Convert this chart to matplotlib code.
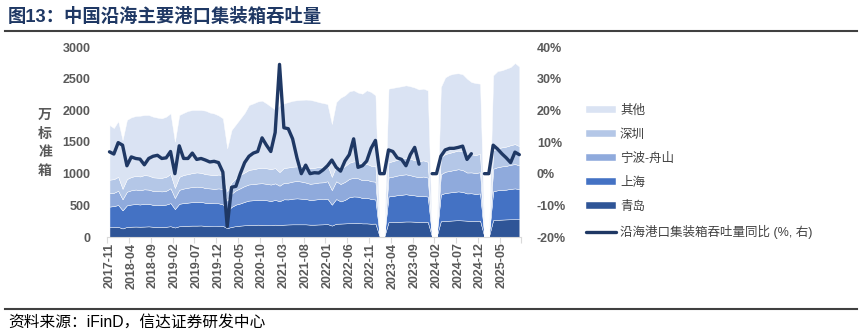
import matplotlib
matplotlib.use('Agg')
import matplotlib.pyplot as plt
import numpy as np
import pandas as pd

plt.rcParams['font.family'] = ['Liberation Sans', 'Noto Sans CJK SC', 'DejaVu Sans']
plt.rcParams['axes.unicode_minus'] = False

nan = np.nan

# 月份 2017-11 ~ 2025-09（1、2月合并公布的年份留空）
months = list(pd.period_range('2017-11', '2025-09', freq='M').strftime('%Y-%m'))

# 万标准箱
qingdao = [155, 158, 160, 135, 160, 163, 165, 163, 165, 168, 162, 160, 160, 162,
           170, 150, 170, 175, 178, 180, 180, 182, 175, 172, 170, 172,
           175, 140, 160, 172, 180, 185, 190, 190, 195, 192, 190, 188,
           195, 190, 195, 198, 200, 200, 200, 200, 195, 195, 198, 200,
           205, 180, 210, 212, 215, 218, 220, 222, 215, 215, 210, 212,
           nan, nan, 235, 238, 240, 242, 245, 245, 242, 240, 240, 238,
           nan, nan, 250, 255, 258, 262, 265, 262, 258, 255, 255, 258,
           nan, nan, 268, 272, 275, 278, 280, 282, 280]
shanghai = [325, 330, 345, 285, 340, 350, 355, 350, 360, 355, 345, 350, 345, 350,
            365, 290, 355, 360, 365, 370, 375, 372, 365, 365, 362, 360,
            340, 270, 315, 340, 350, 370, 385, 390, 390, 395, 390, 380,
            390, 375, 400, 395, 405, 410, 405, 400, 390, 395, 400, 395,
            400, 330, 390, 350, 370, 410, 420, 415, 400, 405, 390, 380,
            nan, nan, 405, 410, 420, 425, 430, 420, 415, 405, 410, 400,
            nan, nan, 420, 440, 445, 450, 455, 450, 430, 435, 425, 430,
            nan, nan, 455, 465, 470, 470, 480, 485, 475]
ningbo = [215, 210, 225, 175, 215, 225, 230, 225, 228, 225, 220, 215, 215, 218,
          235, 175, 220, 230, 235, 240, 240, 238, 232, 230, 228, 235,
          245, 165, 210, 225, 240, 250, 255, 255, 260, 262, 260, 260,
          262, 245, 260, 265, 270, 275, 270, 260, 255, 258, 262, 268,
          275, 230, 280, 275, 285, 290, 295, 290, 280, 285, 280, 282,
          nan, nan, 300, 305, 310, 315, 315, 310, 300, 300, 305, 300,
          nan, nan, 320, 335, 340, 345, 350, 345, 330, 330, 330, 335,
          nan, nan, 355, 365, 370, 375, 380, 385, 375]
shenzhen = [210, 215, 220, 165, 200, 210, 215, 218, 225, 222, 215, 212, 215, 220,
            225, 160, 205, 215, 215, 220, 225, 222, 220, 218, 215, 220,
            215, 150, 180, 195, 210, 215, 230, 235, 240, 245, 245, 245,
            240, 215, 235, 240, 235, 230, 245, 250, 245, 245, 245, 250,
            255, 210, 245, 245, 250, 255, 260, 260, 255, 250, 245, 245,
            nan, nan, 240, 245, 250, 255, 260, 260, 255, 255, 255, 250,
            nan, nan, 270, 280, 285, 290, 295, 295, 285, 285, 285, 290,
            nan, nan, 290, 300, 300, 305, 310, 315, 305]
others = [863, 807, 880, 770, 935, 942, 945, 959, 947, 956, 958, 948, 939, 950,
          958, 730, 976, 980, 997, 995, 985, 991, 1003, 980, 975, 933,
          899, 675, 825, 848, 890, 940, 1024, 1040, 1055, 1059, 1025, 987,
          923, 1055, 1020, 1032, 1040, 1045, 1045, 1060, 1080, 1057, 1025, 1002,
          965, 834, 1005, 1118, 1117, 1127, 1121, 1093, 1113, 1161, 1165, 1118,
          nan, nan, 1162, 1157, 1148, 1143, 1145, 1145, 1148, 1130, 1132, 1128,
          nan, nan, 1108, 1210, 1232, 1232, 1220, 1218, 1197, 1142, 1135, 1108,
          nan, nan, 1185, 1218, 1217, 1230, 1234, 1280, 1255]

# 同比（%）
yoy = [6.9, 6.2, 9.8, 9.0, 2.5, 5.3, 4.8, 4.6, 2.8, 4.8, 5.5, 5.8, 4.8, 5.0,
       7.0, 0.0, 8.8, 4.8, 4.8, 6.5, 4.5, 4.8, 4.3, 3.7, 3.9, 3.5,
       0.5, -16.7, -4.3, -4.0, 0.0, 3.5, 5.5, 6.5, 7.0, 11.3, 9.0, 7.0,
       13.0, 34.5, 14.5, 14.2, 11.0, 5.0, 0.0, 2.7, 0.0, 0.3, 0.2, 1.2,
       2.5, 4.3, 2.0, 0.8, 4.0, 6.0, 11.0, 2.0, 2.5, 4.0, 8.0, 10.5,
       0.0, 0.0, 7.5, 7.0, 5.0, 4.5, 2.5, 6.0, 8.3, 3.0, nan, nan,
       0.0, 0.0, 5.5, 7.5, 8.0, 8.0, 8.3, 8.7, 4.5, 6.3, nan, nan,
       0.0, 0.0, 9.0, 7.8, 6.3, 5.0, 3.5, 6.8, 6.0]

series_names = ['青岛', '上海', '宁波-舟山', '深圳', '其他']
series_colors = ['#2F5597', '#4472C4', '#8FAADC', '#B4C7E7', '#DAE3F3']
line_name = '沿海港口集装箱吞吐量同比 (%, 右)'

gray = '#595959'
x = np.arange(len(months))
areas = [np.nan_to_num(np.array(s, dtype=float)) for s in
         [qingdao, shanghai, ningbo, shenzhen, others]]

fig = plt.figure(figsize=(8.62, 3.34), dpi=100)
ax = fig.add_axes([107.3 / 862, 1 - 237 / 334, (521.5 - 107.3) / 862, 190 / 334])
polys = ax.stackplot(x, *areas, colors=series_colors, labels=series_names,
                     linewidth=0.3, edgecolor='white')
ax.set_xlim(-0.5, len(months) - 0.5)
ax.set_ylim(0, 3000)
ax.set_yticks(np.arange(0, 3001, 500))
ax.tick_params(axis='y', length=0, pad=12, labelsize=9, labelcolor=gray)
tick_idx = list(range(0, len(months), 5))
ax.set_xticks(tick_idx)
ax.set_xticklabels([months[i] for i in tick_idx], rotation=90, fontsize=9,
                   color=gray, fontweight='bold')
ax.tick_params(axis='x', length=0, pad=4)
ax.set_xticks(np.arange(-0.5, len(months), 5), minor=True)
ax.tick_params(axis='x', which='minor', length=4, color='#D9D9D9', width=0.8)
for lab in ax.get_yticklabels():
    lab.set_fontweight('bold')
for s in ['top', 'left', 'right']:
    ax.spines[s].set_visible(False)
ax.spines['bottom'].set_color('#D9D9D9')

ax2 = ax.twinx()
line, = ax2.plot(x, yoy, color='#1F3864', linewidth=2.4, label=line_name,
                 solid_joinstyle='round', solid_capstyle='round')
ax2.set_ylim(-20, 40)
ax2.set_yticks(np.arange(-20, 41, 10))
ax2.set_yticklabels([f'{v}%' for v in range(-20, 41, 10)])
ax2.tick_params(axis='y', length=0, pad=11, labelsize=9, labelcolor=gray)
for lab in ax2.get_yticklabels():
    lab.set_fontweight('bold')
for s in ax2.spines.values():
    s.set_visible(False)

fig.text(45 / 862, 1 - 143 / 334, '\n'.join('万标准箱'), ha='center', va='center',
         fontsize=10, color=gray, fontweight='bold', linespacing=1.45)

handles = list(polys[::-1]) + [line]
labels = series_names[::-1] + [line_name]
fig.legend(handles, labels, loc='upper left', bbox_to_anchor=(580 / 862, 1 - 99 / 334),
           frameon=False, fontsize=9, handlelength=2.4, handleheight=0.5,
           labelspacing=0.95, handletextpad=0.3, borderpad=0, labelcolor='#404040')

fig.text(8 / 862, 1 - 17 / 334, '图13：中国沿海主要港口集装箱吞吐量', ha='left', va='center',
         fontsize=13.2, fontweight='bold', color='#1F3864')
fig.add_artist(plt.Line2D([5 / 862, 857 / 862], [1 - 31 / 334, 1 - 31 / 334],
                          color='#404040', linewidth=1.5))
fig.add_artist(plt.Line2D([5 / 862, 857 / 862], [1 - 309 / 334, 1 - 309 / 334],
                          color='#404040', linewidth=1.5))
fig.text(8 / 862, 1 - 322 / 334, '资料来源：iFinD，信达证券研发中心', ha='left', va='center',
         fontsize=11.3, color='#000000')

fig.savefig('out.png', dpi=100)
plt.close(fig)
